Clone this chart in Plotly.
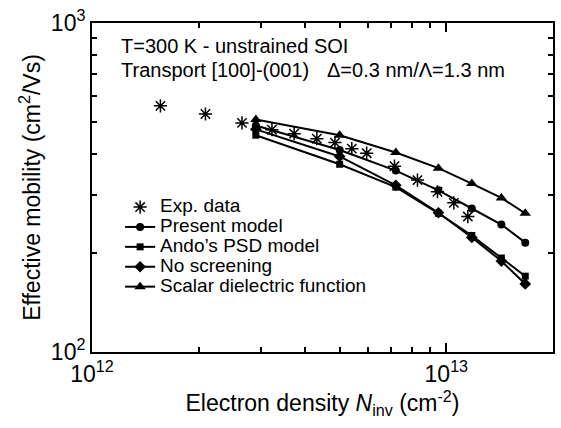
import plotly.graph_objects as go

# ---- data ----
exp_x = [1.56e12, 2.09e12, 2.65e12, 3.22e12, 3.72e12, 4.31e12, 4.85e12,
         5.41e12, 5.96e12, 7.14e12, 8.29e12, 9.44e12, 1.05e13, 1.15e13]
exp_y = [560, 529, 497, 474, 461, 445, 433, 415, 402, 367, 333, 307, 284, 258]

model_x = [2.9e12, 5.0e12, 7.2e12, 9.5e12, 1.18e13, 1.43e13, 1.67e13]
present_y = [488, 411, 356, 310, 273, 244, 215]
ando_y = [456, 372, 317, 264, 226, 193, 170]
noscreen_y = [475, 393, 321, 265, 223, 189, 161]
scalar_y = [509, 456, 404, 362, 325, 294, 264]

x_ticks = [1e12, 1e13]
x_ticklabels = ["10<sup>12</sup>", "10<sup>13</sup>"]
y_ticks = [100, 1000]
y_ticklabels = ["10<sup>2</sup>", "10<sup>3</sup>"]
x_minor = [2e12, 3e12, 4e12, 5e12, 6e12, 7e12, 8e12, 9e12]
y_minor = [200, 300, 400, 500, 600, 700, 800, 900]

FONT = "Liberation Sans, Arial, Helvetica, sans-serif"


def leg(name):
    # legend text drawn at 19px while the legend rows stay compact
    return '<span style="font-size:19px">' + name + "</span>"


fig = go.Figure()
fig.add_trace(go.Scatter(
    x=exp_x, y=exp_y, mode="markers", name=leg("Exp. data"),
    marker=dict(symbol="asterisk-open", size=11, color="black",
                line=dict(color="black", width=1.5))))

series = [
    ("Present model", present_y, "circle", 8),
    ("Ando\u2019s PSD model", ando_y, "square", 7),
    ("No screening", noscreen_y, "diamond", 9),
    ("Scalar dielectric function", scalar_y, "triangle-up", 10),
]
for name, ys, sym, sz in series:
    fig.add_trace(go.Scatter(
        x=model_x, y=ys, mode="lines+markers", name=leg(name),
        line=dict(color="black", width=2),
        marker=dict(symbol=sym, size=sz, color="black")))

axis_common = dict(
    type="log", showline=True, linecolor="black", linewidth=2,
    mirror="ticks", ticks="inside", ticklen=9, tickwidth=1.5,
    tickcolor="black", showgrid=False, zeroline=False,
    tickfont=dict(family=FONT, size=23, color="black"),
)

fig.update_xaxes(
    **axis_common, range=[12, 13.30103],
    tickvals=x_ticks, ticktext=x_ticklabels,
    minor=dict(ticks="inside", ticklen=5, tickwidth=1.5, tickcolor="black",
               tickvals=x_minor, showgrid=False),
    title=dict(text="Electron density <i>N</i><sub>inv</sub> (cm<sup>-2</sup>)",
               font=dict(family=FONT, size=23, color="black"), standoff=6),
)
fig.update_yaxes(
    **axis_common, range=[2, 3],
    tickvals=y_ticks, ticktext=y_ticklabels,
    minor=dict(ticks="inside", ticklen=5, tickwidth=1.5, tickcolor="black",
               tickvals=y_minor, showgrid=False),
    title=dict(text="Effective mobility (cm<sup>2</sup>/Vs)",
               font=dict(family=FONT, size=23, color="black"), standoff=4),
)

ann_font = dict(family=FONT, size=20, color="black")
fig.add_annotation(x=0.058, y=0.93, xref="paper", yref="paper",
                   xanchor="left", yanchor="middle", showarrow=False,
                   text="T=300 K - unstrained SOI", font=ann_font)
fig.add_annotation(x=0.058, y=0.857, xref="paper", yref="paper",
                   xanchor="left", yanchor="middle", showarrow=False,
                   text="Transport [100]-(001)", font=ann_font)
fig.add_annotation(x=0.505, y=0.857, xref="paper", yref="paper",
                   xanchor="left", yanchor="middle", showarrow=False,
                   text="\u0394=0.3 nm/\u039b=1.3 nm", font=ann_font)

fig.update_layout(
    width=561, height=428,
    margin=dict(l=92, r=6, t=19, b=76),
    paper_bgcolor="white", plot_bgcolor="white",
    font=dict(family=FONT, color="black"),
    legend=dict(x=0.061, y=0.486, xanchor="left", yanchor="top",
                bgcolor="rgba(0,0,0,0)", borderwidth=0,
                font=dict(family=FONT, size=13, color="black"),
                tracegroupgap=0, itemwidth=30),
    showlegend=True,
)

fig.write_html("out.html")
